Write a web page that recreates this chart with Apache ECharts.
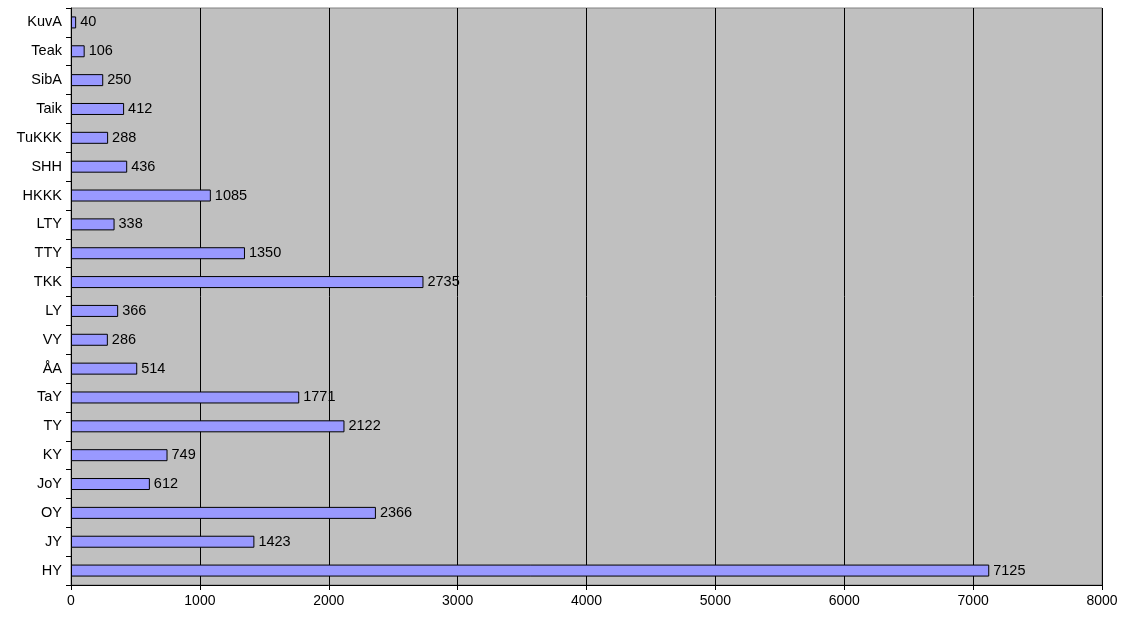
<!DOCTYPE html>
<html>
<head>
<meta charset="utf-8">
<script src="https://cdn.jsdelivr.net/npm/echarts@6/dist/echarts.min.js"></script>
<style>html,body{margin:0;padding:0;background:#fff}#c{width:1123px;height:617px}</style>
</head>
<body>
<div id="c"></div>
<script>
const categories = ["KuvA","Teak","SibA","Taik","TuKKK","SHH","HKKK","LTY","TTY","TKK","LY","VY","ÅA","TaY","TY","KY","JoY","OY","JY","HY"];
const values = [40,106,250,412,288,436,1085,338,1350,2735,366,286,514,1771,2122,749,612,2366,1423,7125];
const xTicks = {min:0, max:8000, interval:1000};

const chart = echarts.init(document.getElementById('c'));
chart.setOption({
  animation:false,
  grid:{left:71,right:21,top:8,bottom:32,show:true,backgroundColor:'#c0c0c0',borderColor:'#808080',borderWidth:1},
  xAxis:{type:'value',min:xTicks.min,max:xTicks.max,interval:xTicks.interval,
    axisLine:{show:true,lineStyle:{color:'#000'}},
    axisTick:{show:true,length:5,lineStyle:{color:'#000'}},
    axisLabel:{color:'#000',fontFamily:'Liberation Sans, Arial',fontSize:14,margin:9,formatter:v=>String(v)},
    splitLine:{show:true,lineStyle:{color:'#000',width:1}}},
  yAxis:{type:'category',data:categories,inverse:true,
    axisLine:{show:true,lineStyle:{color:'#000'}},
    axisTick:{show:true,length:5,inside:false,lineStyle:{color:'#000'}},
    axisLabel:{color:'#000',fontFamily:'Liberation Sans, Arial',fontSize:14.5,margin:9},
    splitLine:{show:false}},
  series:[{type:'bar',data:values,barWidth:12,
    itemStyle:{color:'#9999ff',borderColor:'#000',borderWidth:1},
    label:{show:true,position:'right',distance:4,color:'#000',fontFamily:'Liberation Sans, Arial',fontSize:14.5}}]
});
</script>
</body>
</html>
